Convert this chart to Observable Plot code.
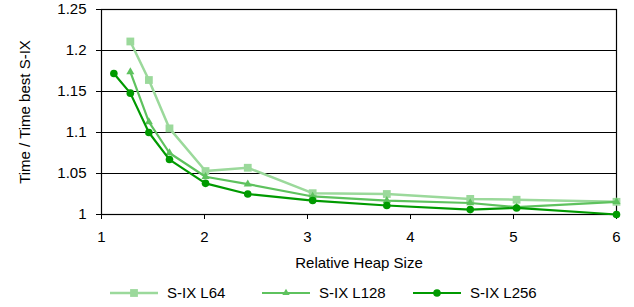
<!DOCTYPE html>
<html>
<head>
<meta charset="utf-8">
<script src="https://cdn.jsdelivr.net/npm/d3@7"></script>
<script src="https://cdn.jsdelivr.net/npm/@observablehq/plot@0.6"></script>
<style>
  body { margin: 0; background: #fff; font-family: "Liberation Sans", Arial, sans-serif; }
  #wrap { width: 634px; }
  #legend { position: relative; width: 634px; height: 32px; font-size: 15px; color: #000; }
  .item { position: absolute; top: 9px; display: flex; align-items: center; }
  .item svg { margin-right: 9px; }
</style>
</head>
<body>
<div id="wrap">
  <div id="chart"></div>
  <div id="legend"></div>
</div>
<script>
const heapSize = [1.12, 1.28, 1.46, 1.66, 2.01, 2.42, 3.05, 3.77, 4.58, 5.03, 6.0];
const seriesNames = ["S-IX L64", "S-IX L128", "S-IX L256"];
const L64  = [null, 1.211, 1.164, 1.105, 1.053, 1.057, 1.026, 1.025, 1.019, 1.018, 1.0155];
const L128 = [null, 1.174, 1.113, 1.075, 1.046, 1.037, 1.022, 1.017, 1.014, 1.009, 1.0155];
const L256 = [1.172, 1.148, 1.100, 1.067, 1.038, 1.025, 1.017, 1.011, 1.006, 1.008, 1.000];
const yTicks = [1, 1.05, 1.1, 1.15, 1.2, 1.25];
const xTicks = [1, 2, 3, 4, 5, 6];

const colors = ["#9bd99b", "#5ec25e", "#009a00"];
const symbols = ["square", "triangle", "circle"];
const radii = [4.4, 3.0, 3.8];
const widths = [2.5, 2.2, 2.2];

const allValues = [L64, L128, L256];
const rows = [];
allValues.forEach((vals, si) => {
  vals.forEach((v, i) => {
    if (v != null) rows.push({series: seriesNames[si], x: heapSize[i], y: v});
  });
});

const marks = [
  Plot.gridY(yTicks, {stroke: "#000", strokeOpacity: 1, strokeWidth: 1}),
  Plot.frame({stroke: "#000", strokeWidth: 1.2}),
  Plot.axisY(yTicks, {
    tickSize: 5, tickPadding: 10,
    tickFormat: d => String(+d.toFixed(2)),
    label: "Time / Time best S-IX", labelAnchor: "center", labelArrow: "none",
    labelOffset: 82, fontSize: 15
  }),
  Plot.axisX(xTicks, {
    tickSize: 5, tickPadding: 12,
    label: "Relative Heap Size", labelAnchor: "center", labelArrow: "none",
    labelOffset: 53, fontSize: 15
  })
];
seriesNames.forEach((name, si) => {
  const d = rows.filter(r => r.series === name);
  marks.push(Plot.line(d, {x: "x", y: "y", stroke: colors[si], strokeWidth: widths[si]}));
  marks.push(Plot.dot(d, {x: "x", y: "y", symbol: () => symbols[si], fill: colors[si], r: radii[si], stroke: "none"}));
});

const chart = Plot.plot({
  width: 634,
  height: 275,
  marginTop: 9,
  marginBottom: 61,
  marginLeft: 101,
  marginRight: 18,
  style: {fontFamily: "Liberation Sans, Arial, sans-serif", fontSize: "15px", color: "#000", background: "#fff"},
  x: {domain: [1, 6]},
  y: {domain: [1, 1.25]},
  marks
});
document.getElementById("chart").appendChild(chart);

// Legend (HTML below the SVG)
const legend = document.getElementById("legend");
const lefts = [110, 262, 413];
seriesNames.forEach((name, si) => {
  const item = document.createElement("div");
  item.className = "item";
  item.style.left = lefts[si] + "px";
  const sym = d3.symbol().type(si === 0 ? d3.symbolSquare : si === 1 ? d3.symbolTriangle : d3.symbolCircle)
    .size(Math.PI * radii[si] * radii[si] * (si === 1 ? 0.8 : 1))();
  item.innerHTML = `<svg width="48" height="14"><line x1="0" x2="48" y1="7" y2="7" stroke="${colors[si]}" stroke-width="${widths[si]}"/><path d="${sym}" transform="translate(24,7)" fill="${colors[si]}"/></svg><span>${name}</span>`;
  legend.appendChild(item);
});
</script>
</body>
</html>
